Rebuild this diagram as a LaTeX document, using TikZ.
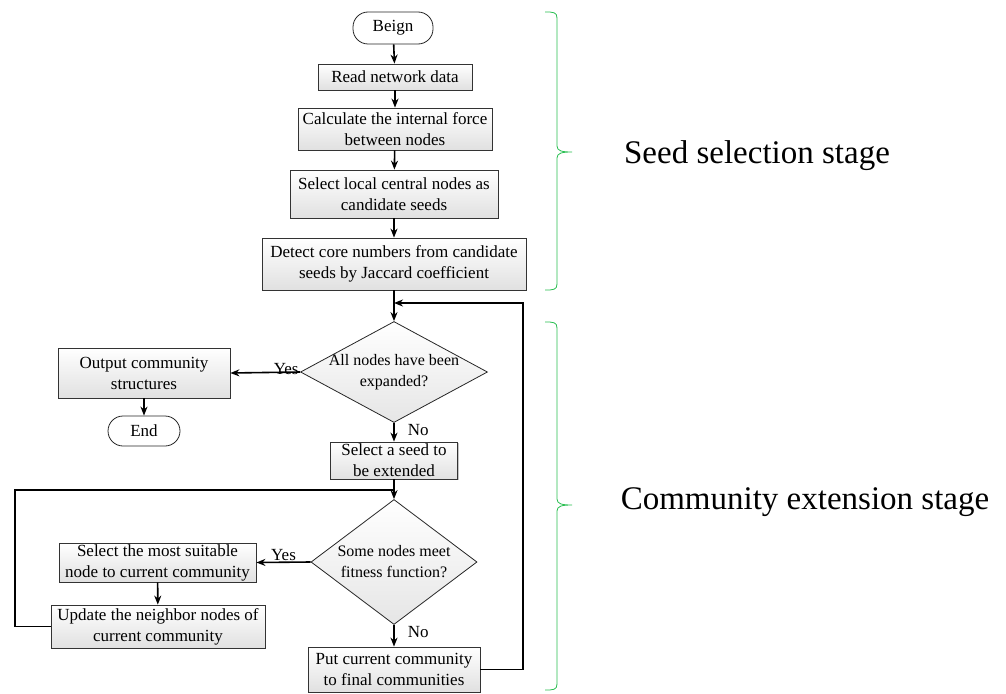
\documentclass[tikz,border=0pt]{standalone}
\usepackage{fontspec}
\setmainfont{Liberation Serif}
\usetikzlibrary{arrows.meta,shapes.geometric,shadows}
\definecolor{brgreen}{RGB}{40,190,80}
\begin{document}
\begin{tikzpicture}[x=1pt,y=-1pt,
  every node/.style={font=\fontsize{17}{21}\selectfont, align=center, inner sep=0pt},
  proc/.style={rectangle, draw=black!80, line width=0.8pt, top color=white, bottom color=black!12,
     drop shadow={shadow xshift=1pt, shadow yshift=-1pt, fill=black!45}},
  term/.style={rectangle, rounded corners=15pt, draw=black!85, line width=0.8pt, fill=white},
  dec/.style={diamond, draw=black!85, line width=0.8pt, top color=white, bottom color=black!10},
  dtext/.style={font=\fontsize{16}{21}\selectfont},
  conn/.style={line width=1.6pt, -{Stealth[length=9pt,width=7pt]}},
  plain/.style={line width=1.6pt},
  brc/.style={draw=brgreen, line width=0.8pt},
  stage/.style={font=\fontsize{33}{38}\selectfont}]
\useasboundingbox (0,0) rectangle (1006,693);

\node[term, minimum width=80pt, minimum height=32pt] (beg) at (393,28) {Beign};
\node[proc, minimum width=154pt, minimum height=26pt] (read) at (395,77) {Read network data};
\node[proc, minimum width=194pt, minimum height=42pt] (calc) at (395,129) {Calculate the internal force\\between nodes};
\node[proc, minimum width=208pt, minimum height=48pt] (sel) at (394,194) {Select local central nodes as\\candidate seeds};
\node[proc, minimum width=264pt, minimum height=52pt] (det) at (394,264) {Detect core numbers from candidate\\seeds by Jaccard coefficient};
\node[dec, minimum width=187pt, minimum height=101pt] (d1) at (394,372) {};
\node[dtext] (d1t) at (d1.center) {All nodes have been\\expanded?};
\node[proc, minimum width=172pt, minimum height=50pt] (out) at (144,373) {Output community\\structures};
\node[term, minimum width=72pt, minimum height=30pt] (endn) at (144,431) {End};
\node[proc, minimum width=127pt, minimum height=37pt] (seed) at (394,460.5) {Select a seed to\\be extended};
\node[dec, minimum width=166pt, minimum height=125pt] (d2) at (394,562) {};
\node[dtext] (d2t) at (d2.center) {Some nodes meet\\fitness function?};
\node[proc, minimum width=197pt, minimum height=39pt] (suit) at (157.5,562.5) {Select the most suitable\\node to current community};
\node[proc, minimum width=214pt, minimum height=43pt] (upd) at (158,626.5) {Update the neighbor nodes of\\current community};
\node[proc, minimum width=172pt, minimum height=45pt] (put) at (394,669.5) {Put current community\\to final communities};

\coordinate (loopR) at (523,303);
\coordinate (loopL) at (15,490);

\draw[conn] (beg) -- (read);
\draw[conn] (read) -- (calc);
\draw[conn] (calc) -- (sel);
\draw[conn] (sel) -- (det);
\draw[conn] (det) -- (d1);
\draw[conn] (d1.west) -- node[above, pos=0.2, yshift=-3pt] {Yes} (out.east);
\draw[conn] (out) -- (endn);
\draw[conn] (d1.south) -- node[right, xshift=13pt, yshift=2pt] {No} (seed.north);
\draw[conn] (seed) -- (d2);
\draw[plain] (upd.west) -| (loopL) -- (seed.south |- loopL);
\draw[conn] (d2.west) -- node[above, pos=0.5, yshift=1pt] {Yes} (suit.east);
\draw[conn] (suit) -- (upd);
\draw[conn] (d2.south) -- node[right, xshift=13pt, yshift=4pt] {No} (put.north);
\draw[conn] (put.east) -| (loopR) -- (det.south |- loopR);

% braces
\draw[brc] (545,12) .. controls (553,12) and (557,12) .. (557,18) -- (557,146)
  .. controls (557,151) and (562,152) .. (572,152)
  .. controls (562,152) and (557,153) .. (557,158) -- (557,284)
  .. controls (557,290) and (553,290) .. (545,290);
\draw[brc] (545,322) .. controls (553,322) and (557,322) .. (557,328) -- (557,499)
  .. controls (557,504) and (562,505) .. (572,505)
  .. controls (562,505) and (557,506) .. (557,511) -- (557,684)
  .. controls (557,690) and (553,690) .. (545,690);

\node[stage] (s1) at (757,156) {Seed selection stage};
\node[stage] (s2) at (805,502) {Community extension stage};
\end{tikzpicture}
\end{document}
